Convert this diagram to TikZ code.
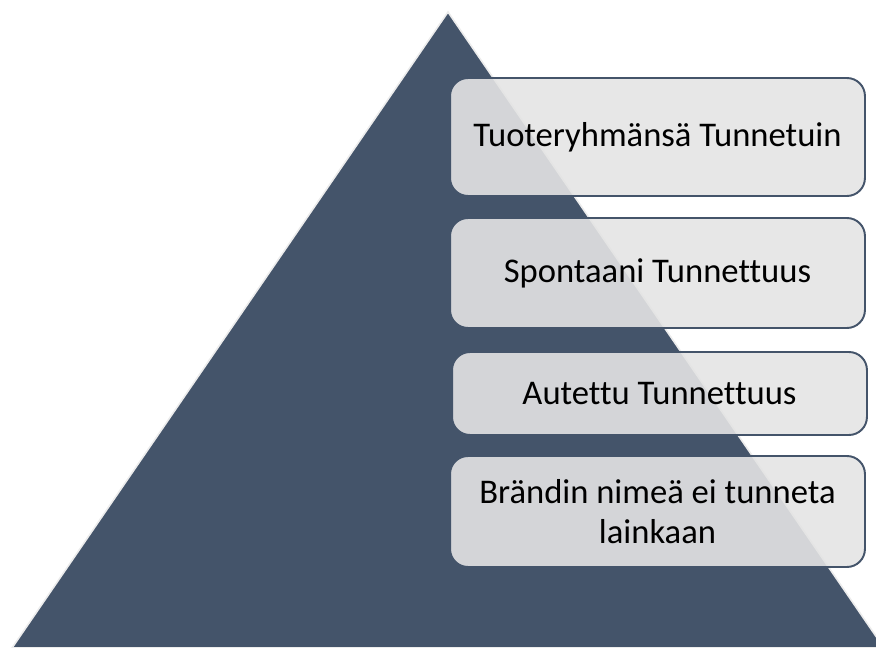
\documentclass[tikz,border=0pt]{standalone}
\usepackage{fontspec}
\setmainfont[Ligatures=NoCommon]{Carlito}
\usepackage{tikz}
\usetikzlibrary{positioning}
\usepackage{xcolor}

\definecolor{pyrblue}{HTML}{44546A}
\definecolor{boxgray}{HTML}{E4E4E4}

\tikzset{
  levelbox/.style={draw=pyrblue, line width=1.1pt, fill=boxgray, fill opacity=0.9,
    text opacity=1, rounded corners=0.36cm, minimum width=8.3cm, inner sep=0pt,
    align=center, font=\fontsize{19.7}{22.5}\selectfont},
}

\begin{document}
\begin{tikzpicture}[x=0.02cm, y=-0.02cm]
    \useasboundingbox (0,0) rectangle (876,648);
    \clip (0,0) rectangle (876,648);
    % pyramid
    \fill[pyrblue, draw=gray!15, line width=0.9pt] (448,12) -- (12,648) -- (884,648) -- cycle;

    \node[levelbox, minimum height=2.36cm] (top)   at (657.5,137)   {Tuoteryhmänsä Tunnetuin};
    \node[levelbox, minimum height=2.2cm]  (spont) at (657.5,273)   {Spontaani Tunnettuus};
    \node[levelbox, minimum height=1.66cm] (aided) at (659.5,393.5) {Autettu Tunnettuus};
    \node[levelbox, minimum height=2.22cm] (none)  at (657.5,511.5) {Brändin nimeä ei tunneta\\lainkaan};

\end{tikzpicture}
\end{document}
